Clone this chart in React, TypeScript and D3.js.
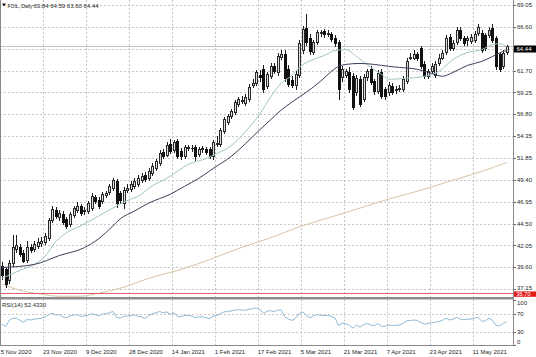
import React from 'react';
import * as d3 from 'd3';

// ---- data (WTI-like daily candles) ----
const opens = [
  39.79, 39.35, 38.13, 40.02, 41.69, 41.91, 41.24, 40.46, 41.91, 41.69,
  42.02, 42.36, 42.47, 42.91, 44.92, 46.03, 45.25, 45.59, 45.03, 44.47,
  45.47, 46.03, 46.48, 45.92, 45.92, 46.25, 47.48, 47.15, 47.03, 47.70,
  48.04, 48.48, 49.26, 47.93, 46.81, 48.26, 48.37, 48.70, 48.93, 49.37,
  49.93, 49.60, 50.15, 50.71, 51.27, 52.60, 52.27, 53.49, 52.82, 53.83,
  52.71, 52.16, 53.05, 53.05, 53.16, 52.38, 52.94, 52.94, 52.94, 52.16,
  53.49, 53.49, 54.94, 55.94, 56.61, 57.06, 57.95, 58.28, 58.06, 58.50,
  60.06, 60.29, 61.18, 61.85, 59.95, 61.07, 62.18, 61.51, 63.29, 63.63,
  61.85, 60.62, 60.06, 61.18, 64.07, 66.52, 65.41, 63.85, 64.96, 65.97,
  66.19, 65.85, 65.85, 65.41, 64.96, 60.95, 61.18, 61.51, 61.07, 59.28,
  60.73, 58.50, 60.95, 61.85, 60.51, 59.40, 61.51, 59.62, 59.28, 59.95,
  59.51, 59.62, 59.62, 60.51, 63.18, 63.18, 63.52, 64.29, 62.40, 61.07,
  61.62, 61.18, 62.51, 63.18, 63.85, 65.52, 64.29, 64.96, 66.30, 65.41,
  65.19, 65.07, 65.19, 65.97, 65.97, 65.74, 65.74, 66.52, 65.41, 63.52,
  62.18, 63.84,
];
const highs = [
  40.13, 39.57, 40.46, 43.25, 43.25, 42.25, 41.58, 42.58, 42.25, 42.58,
  42.91, 43.02, 43.47, 45.14, 46.48, 46.37, 46.03, 45.92, 45.25, 45.81,
  46.48, 46.92, 46.70, 46.37, 47.03, 47.93, 47.70, 47.48, 48.04, 48.15,
  48.93, 49.60, 49.48, 48.15, 48.59, 48.93, 49.26, 49.60, 49.93, 50.15,
  50.26, 50.71, 51.27, 51.82, 52.83, 52.94, 53.72, 54.05, 53.94, 54.05,
  53.05, 53.38, 53.38, 53.38, 53.38, 53.16, 53.27, 53.16, 53.16, 53.94,
  54.38, 55.27, 56.50, 56.83, 57.39, 58.39, 58.73, 58.84, 59.06, 60.17,
  60.73, 61.73, 61.73, 62.29, 61.51, 62.51, 62.51, 63.74, 64.07, 64.07,
  62.29, 61.07, 61.62, 65.19, 66.74, 68.08, 65.85, 65.19, 66.30, 66.30,
  66.41, 66.30, 66.08, 65.74, 65.19, 62.18, 61.85, 62.07, 61.40, 61.18,
  61.07, 61.29, 61.85, 62.18, 60.73, 61.73, 61.85, 59.84, 60.40, 60.29,
  59.95, 60.06, 61.07, 63.18, 63.74, 64.07, 63.85, 64.52, 62.74, 61.85,
  62.51, 62.74, 63.52, 64.07, 65.74, 65.85, 65.19, 66.63, 66.63, 65.63,
  65.63, 65.85, 66.19, 66.97, 66.30, 65.97, 66.63, 66.97, 65.63, 63.85,
  64.07, 64.59,
];
const lows = [
  38.24, 37.35, 37.79, 39.79, 41.36, 40.91, 40.13, 40.24, 41.36, 41.47,
  41.80, 42.02, 42.25, 42.69, 44.70, 45.14, 44.92, 44.47, 44.03, 44.25,
  45.25, 45.81, 45.47, 45.59, 45.70, 46.03, 46.81, 46.25, 46.81, 47.48,
  47.81, 48.26, 46.37, 46.81, 46.25, 48.04, 48.15, 48.48, 48.70, 49.15,
  49.26, 49.37, 49.93, 50.49, 51.04, 51.93, 52.05, 52.49, 52.60, 51.93,
  51.82, 51.93, 52.82, 52.71, 51.60, 52.05, 52.60, 52.38, 51.93, 51.82,
  53.27, 53.27, 54.72, 55.72, 56.39, 56.83, 57.72, 58.06, 57.84, 58.28,
  59.84, 60.06, 60.51, 59.28, 59.73, 60.84, 61.40, 61.18, 62.96, 60.51,
  59.95, 59.84, 59.62, 60.95, 63.74, 64.63, 63.63, 63.52, 64.74, 65.63,
  65.52, 65.63, 65.07, 64.52, 58.50, 60.51, 60.95, 59.28, 57.39, 58.95,
  57.72, 58.28, 60.62, 60.17, 59.06, 59.17, 58.61, 58.50, 58.95, 59.06,
  59.17, 59.40, 59.40, 60.29, 62.96, 62.96, 62.85, 61.96, 60.84, 60.84,
  61.40, 60.95, 62.29, 62.96, 63.63, 64.07, 64.07, 64.74, 65.19, 64.63,
  64.63, 64.85, 64.96, 65.74, 63.85, 64.07, 65.52, 64.96, 61.85, 61.62,
  61.96, 63.60,
];
const closes = [
  38.68, 37.68, 40.02, 41.91, 42.14, 41.13, 40.35, 41.91, 41.58, 42.25,
  42.47, 42.58, 43.14, 44.92, 46.14, 45.36, 45.70, 44.70, 44.25, 45.59,
  46.25, 46.48, 45.70, 46.03, 46.81, 47.59, 47.03, 46.48, 47.81, 47.93,
  48.70, 49.37, 46.81, 47.15, 48.26, 48.48, 48.93, 49.26, 49.60, 49.82,
  49.48, 50.37, 50.93, 51.49, 52.49, 52.16, 53.38, 52.71, 53.72, 52.16,
  52.05, 53.16, 53.16, 53.05, 52.16, 52.94, 52.98, 52.60, 52.16, 53.72,
  53.61, 55.05, 56.28, 56.61, 57.17, 58.17, 58.50, 58.39, 58.73, 59.84,
  60.29, 61.51, 60.95, 59.62, 61.29, 62.18, 61.62, 63.40, 63.52, 60.84,
  60.17, 60.06, 61.29, 64.85, 66.41, 64.96, 63.96, 64.96, 66.08, 66.00,
  65.85, 65.97, 65.30, 64.85, 59.62, 61.85, 61.62, 59.62, 57.61, 60.84,
  57.95, 60.95, 61.62, 60.40, 59.40, 61.40, 58.84, 58.84, 60.06, 59.28,
  59.62, 59.73, 60.73, 62.74, 63.29, 63.63, 63.18, 62.18, 61.07, 61.62,
  62.18, 62.40, 63.18, 63.74, 65.41, 64.29, 64.85, 66.30, 65.41, 64.85,
  65.41, 65.52, 65.85, 66.63, 64.07, 64.29, 66.30, 65.19, 62.18, 61.85,
  63.74, 64.44,
];

const rsiValues = [
  47, 41, 55, 60, 60, 55, 51, 57, 56, 58,
  59, 60, 62, 68, 71, 67, 68, 63, 61, 65,
  67, 68, 64, 65, 67, 70, 68, 65, 69, 70,
  72, 75, 62, 60, 64, 65, 66, 67, 64, 63,
  59, 66, 70, 72, 75, 72, 74, 69, 72, 64,
  63, 66, 66, 65, 61, 63, 63, 61, 59, 65,
  66, 70, 74, 75, 76, 78, 79, 78, 78, 80,
  81, 83, 80, 70, 75, 77, 74, 78, 78, 63,
  58, 55, 60, 70, 74, 66, 61, 65, 68, 67,
  66, 66, 64, 61, 44, 49, 48, 44, 38, 45,
  40, 46, 48, 45, 43, 48, 42, 42, 45, 44,
  44, 45, 48, 54, 55, 56, 55, 50, 47, 48,
  50, 51, 53, 55, 60, 56, 58, 62, 58, 57,
  58, 58, 60, 62, 53, 54, 60, 55, 44, 43,
  49, 52.43,
];

// moving averages: [bar index, value]
const fastMA: [number, number][] = [
  [0, 38.35], [5, 39.24], [9, 39.91], [12, 40.8], [15, 42.47], [18, 43.47], [22, 44.25],
  [26, 45.14], [30, 46.03], [34, 46.92], [39, 47.81], [41, 48.48], [47, 49.82], [52, 51.15],
  [57, 51.82], [60, 52.38], [64, 53.27], [68, 54.83], [72, 56.83], [75, 58.73], [78, 60.29],
  [81, 61.18], [83, 62.07], [87, 62.96], [90, 63.4], [93, 63.96], [96, 64.07], [99, 63.29],
  [103, 62.07], [106, 61.29], [108, 60.73], [113, 60.84], [118, 61.07], [122, 61.62],
  [126, 62.96], [130, 63.74], [134, 64.07], [137, 64.63], [139, 64.74], [141, 64.41],
];
const slowMA: [number, number][] = [
  [0, 39.57], [9, 39.91], [16, 40.91], [23, 41.8], [27, 42.8], [31, 44.25], [33, 45.03],
  [37, 45.92], [41, 46.81], [47, 47.81], [51, 48.7], [55, 49.6], [59, 50.71], [64, 52.05],
  [68, 53.49], [72, 55.05], [75, 56.17], [78, 57.28], [81, 58.17], [85, 59.28], [89, 60.51],
  [92, 61.62], [94, 62.18], [96, 62.4], [100, 62.51], [104, 62.4], [108, 62.18], [111, 62.07],
  [116, 61.85], [120, 61.4], [123, 61.07], [126, 61.51], [130, 62.29], [134, 62.74],
  [137, 63.29], [140, 63.85], [141, 63.96],
];
const longMA: [number, number][] = [
  [0, 37.68], [5, 37.01], [11, 36.57], [16, 36.34], [22, 36.34], [27, 36.68], [33, 37.23],
  [41, 38.35], [50, 39.35], [58, 40.46], [66, 41.69], [75, 42.91], [83, 44.14], [92, 45.25],
  [100, 46.25], [108, 47.26], [117, 48.26], [125, 49.26], [134, 50.37], [141, 51.38],
];

const priceTicks = [69.05, 66.6, 64.15, 61.7, 59.25, 56.8, 54.35, 51.85, 49.4, 46.95, 44.5, 42.05, 39.6, 37.15];
const rsiTicks = [100, 70, 30, 0];
const dateLabels = [
  '5 Nov 2020', '23 Nov 2020', '9 Dec 2020', '28 Dec 2020', '14 Jan 2021', '1 Feb 2021',
  '17 Feb 2021', '5 Mar 2021', '21 Mar 2021', '7 Apr 2021', '23 Apr 2021', '11 May 2021',
];
const dateBars = [0, 12, 24, 36, 48, 60, 72, 84, 96, 108, 120, 132];

const symbolName = 'FOIL.,Daily';
const lastPrice = 64.44;
const levelLine = 36.7;
const rsiLast = '52.4330';

const FONT = '"Liberation Sans", Arial, sans-serif';

export default function App() {
  const W = 536, H = 357;
  const plotRight = 513;
  const priceBottom = 297;
  const rsiTop = 299.5, rsiBottom = 345;
  const n = closes.length;

  const x = d3.scaleLinear().domain([0, n - 1]).range([2, 506.8]);
  const y = d3.scaleLinear().domain([37.15, 69.05]).range([289, 5.3]);
  const ry = d3.scaleLinear().domain([0, 100]).range([345.2, 300.2]);

  const maLine = d3.line<[number, number]>()
    .x(d => x(d[0]))
    .y(d => y(d[1]))
    .curve(d3.curveMonotoneX);
  const rsiLine = d3.line<number>()
    .x((_, i) => x(i))
    .y(d => ry(d));

  const grid = '#c6c6c6';
  const txt = '#262626';

  const px = (v: number) => Math.round(v) + 0.5;

  return (
    <svg width={W} height={H} style={{ position: 'absolute', left: 0, top: 0, display: 'block', background: '#fff' }}
      fontFamily={FONT}>
      <defs>
        <clipPath id="pclip"><rect x={0} y={0} width={plotRight} height={priceBottom} /></clipPath>
        <clipPath id="rclip"><rect x={0} y={rsiTop} width={plotRight} height={rsiBottom - rsiTop} /></clipPath>
      </defs>
      <rect x={0} y={0} width={W} height={H} fill="#fff" />

      {/* grid */}
      <g stroke={grid} strokeWidth={1} strokeDasharray="2 2">
        {priceTicks.map(t => (
          <line key={'h' + t} x1={0} x2={plotRight} y1={px(y(t))} y2={px(y(t))} />
        ))}
        {dateBars.slice(1).map(b => (
          <line key={'v' + b} x1={px(x(b) - 2)} x2={px(x(b) - 2)} y1={0} y2={priceBottom} />
        ))}
        {[70, 30].map(t => (
          <line key={'rh' + t} x1={0} x2={plotRight} y1={px(ry(t))} y2={px(ry(t))} />
        ))}
        {dateBars.slice(1).map(b => (
          <line key={'rv' + b} x1={px(x(b) - 2)} x2={px(x(b) - 2)} y1={rsiTop} y2={rsiBottom} />
        ))}
      </g>

      <g clipPath="url(#pclip)">
        <path d={maLine(longMA) || ''} fill="none" stroke="#d9c3a3" strokeWidth={1} />
        <line x1={0} x2={plotRight} y1={px(y(levelLine))} y2={px(y(levelLine))} stroke="#e06272" strokeWidth={1} />
        <line x1={0} x2={plotRight} y1={px(y(lastPrice))} y2={px(y(lastPrice))} stroke="#c4c4c4" strokeWidth={1} />

        {closes.map((c, i) => {
          const o = opens[i];
          const cx = px(x(i));
          const bull = c >= o;
          const top = Math.round(y(Math.max(o, c))) + 0.5;
          const bot = Math.round(y(Math.min(o, c))) + 0.5;
          return (
            <g key={i}>
              <line x1={cx} x2={cx} y1={Math.round(y(highs[i]))} y2={Math.round(y(lows[i])) + 1} stroke="#1e1e1e" strokeWidth={1} />
              <rect x={cx - 1} y={top} width={2} height={Math.max(bot - top, 0.01)}
                fill={bull ? '#dcdcdc' : '#111'} stroke={bull ? '#2a2a2a' : '#111'} strokeWidth={1} />
            </g>
          );
        })}

        <path d={maLine(fastMA) || ''} fill="none" stroke="#9fc6c4" strokeWidth={1} />
        <path d={maLine(slowMA) || ''} fill="none" stroke="#3d3d5c" strokeWidth={1} />
      </g>

      <g clipPath="url(#rclip)">
        <path d={rsiLine(rsiValues) || ''} fill="none" stroke="#8fbad6" strokeWidth={1} />
      </g>

      {/* frames */}
      <line x1={0.5} x2={0.5} y1={0} y2={rsiBottom} stroke="#8a8a8a" />
      <line x1={plotRight + 0.5} x2={plotRight + 0.5} y1={0} y2={rsiBottom} stroke="#8a8a8a" />
      <rect x={0} y={priceBottom} width={plotRight + 1} height={2.5} fill="#8c8c8c" />
      <line x1={0} x2={plotRight + 1} y1={rsiBottom + 0.5} y2={rsiBottom + 0.5} stroke="#8a8a8a" />

      {/* price axis */}
      <g fontSize={6} fill={txt}>
        {priceTicks.map(t => (
          <g key={'pt' + t}>
            <line x1={plotRight + 1} x2={plotRight + 3} y1={px(y(t))} y2={px(y(t))} stroke="#666" />
            <text x={517} y={t === 37.15 ? y(t) - 1 : y(t)} dy="0.35em">{t.toFixed(2)}</text>
          </g>
        ))}
        {rsiTicks.map(t => {
          const yy = Math.min(Math.max(ry(t), 303), 342);
          return (
            <g key={'rt' + t}>
              <line x1={plotRight + 1} x2={plotRight + 3} y1={px(ry(t))} y2={px(ry(t))} stroke="#666" />
              <text x={517} y={yy} dy="0.35em">{t}</text>
            </g>
          );
        })}
      </g>

      {/* current price label */}
      <rect x={514} y={y(lastPrice) - 0.8} width={22} height={7} fill="#000" />
      <text x={516.5} y={y(lastPrice) + 2.7} dy="0.35em" fontSize={6} fill="#fff">{lastPrice.toFixed(2)}</text>
      {/* level label */}
      <rect x={514} y={y(levelLine) - 1.6} width={22} height={5.4} fill="#e41b1b" />
      <text x={516.5} y={y(levelLine) + 1.1} dy="0.35em" fontSize={5.6} fill="#fff">{levelLine.toFixed(2)}</text>

      {/* date axis */}
      <g fontSize={6} fill={txt}>
        {dateBars.map((b, k) => (
          <text key={'d' + b} x={Math.max(x(b) - 2, 0.8)} y={352} dy="0.35em">{dateLabels[k]}</text>
        ))}
      </g>

      {/* titles */}
      <path d="M2,3.5 L6,3.5 L4,6.5 Z" fill="#111" />
      <text x={7.5} y={6} dy="0.35em" fontSize={5} fill={txt}>{symbolName}</text>
      <text x={33.5} y={6} dy="0.35em" fontSize={6} fill={txt}>
        {`${opens[n - 1].toFixed(2)} ${highs[n - 1].toFixed(2)} ${lows[n - 1].toFixed(2)} ${closes[n - 1].toFixed(2)}`}
      </text>
      <text x={2} y={305} dy="0.35em" fontSize={6} fill={txt}>{`RSI(14) ${rsiLast}`}</text>
    </svg>
  );
}
